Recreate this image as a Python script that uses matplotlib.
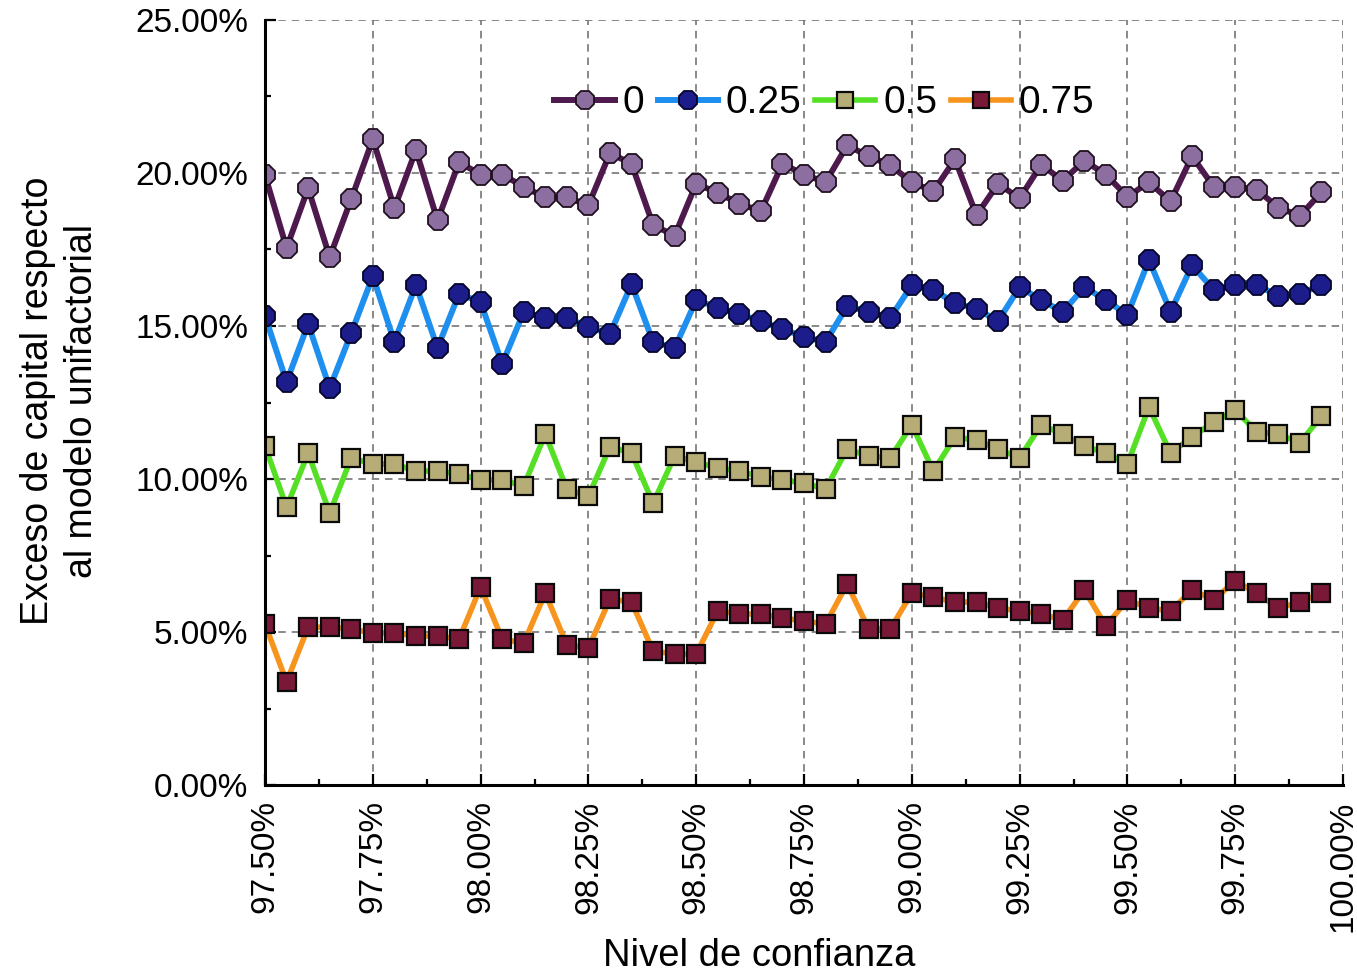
import numpy as np
import matplotlib
matplotlib.use("Agg")
import matplotlib.pyplot as plt
from matplotlib.ticker import PercentFormatter, MultipleLocator

plt.rcParams['font.family'] = ['Liberation Sans', 'DejaVu Sans']

# niveles de confianza (%)
niveles = [97.50, 97.55, 97.60, 97.65, 97.70, 97.75, 97.80, 97.85, 97.90, 97.95,
           98.00, 98.05, 98.10, 98.15, 98.20, 98.25, 98.30, 98.35, 98.40, 98.45,
           98.50, 98.55, 98.60, 98.65, 98.70, 98.75, 98.80, 98.85, 98.90, 98.95,
           99.00, 99.05, 99.10, 99.15, 99.20, 99.25, 99.30, 99.35, 99.40, 99.45,
           99.50, 99.55, 99.60, 99.65, 99.70, 99.75, 99.80, 99.85, 99.90, 99.95]

# exceso de capital (%) para cada correlacion
rho_0 = [19.93, 17.55, 19.50, 17.25, 19.15, 21.10, 18.85, 20.75, 18.45, 20.35,
         19.95, 19.95, 19.55, 19.20, 19.20, 18.95, 20.65, 20.30, 18.30, 17.95,
         19.65, 19.35, 19.00, 18.75, 20.30, 19.95, 19.70, 20.90, 20.55, 20.25,
         19.70, 19.40, 20.45, 18.62, 19.65, 19.17, 20.27, 19.75, 20.40, 19.95,
         19.22, 19.70, 19.07, 20.55, 19.55, 19.55, 19.45, 18.87, 18.60, 19.37]
rho_025 = [15.33, 13.17, 15.07, 12.97, 14.77, 16.63, 14.48, 16.34, 14.28, 16.05,
           15.78, 13.76, 15.46, 15.26, 15.26, 14.97, 14.74, 16.37, 14.48, 14.28,
           15.85, 15.60, 15.40, 15.15, 14.90, 14.65, 14.48, 15.65, 15.46, 15.26,
           16.34, 16.18, 15.75, 15.56, 15.16, 16.27, 15.85, 15.46, 16.27, 15.85,
           15.36, 17.16, 15.46, 16.99, 16.18, 16.34, 16.34, 15.98, 16.05, 16.34]
rho_05 = [11.08, 9.08, 10.85, 8.89, 10.69, 10.49, 10.49, 10.26, 10.26, 10.16,
          9.97, 9.97, 9.77, 11.47, 9.67, 9.44, 11.05, 10.85, 9.21, 10.75,
          10.56, 10.36, 10.26, 10.07, 9.97, 9.87, 9.67, 10.98, 10.75, 10.69,
          11.77, 10.26, 11.37, 11.27, 10.98, 10.69, 11.77, 11.47, 11.08, 10.85,
          10.49, 12.35, 10.85, 11.37, 11.86, 12.25, 11.54, 11.47, 11.18, 12.06]
rho_075 = [5.26, 3.37, 5.16, 5.16, 5.10, 4.97, 4.97, 4.87, 4.87, 4.77,
           6.47, 4.77, 4.64, 6.27, 4.58, 4.48, 6.08, 5.98, 4.38, 4.28,
           4.28, 5.69, 5.59, 5.59, 5.46, 5.36, 5.26, 6.57, 5.10, 5.10,
           6.27, 6.14, 5.98, 5.98, 5.78, 5.69, 5.59, 5.39, 6.37, 5.20,
           6.05, 5.78, 5.69, 6.37, 6.05, 6.67, 6.27, 5.78, 5.98, 6.27]

etiquetas = ['0', '0.25', '0.5', '0.75']

fig = plt.figure(figsize=(13.57, 9.74), dpi=100)
ax = fig.add_axes([0.1953, 0.194, 0.7944, 0.7855])

ax.plot(niveles, rho_0, color='#4E1A4E', lw=4.3, marker='8', ms=15,
        mfc='#8C6EA0', mec='#20101F', mew=1.3, label=etiquetas[0], zorder=4)
ax.plot(niveles, rho_025, color='#1E8FEF', lw=4.3, marker='8', ms=15,
        mfc='#1C1C8A', mec='#05052A', mew=1.3, label=etiquetas[1], zorder=4)
ax.plot(niveles, rho_05, color='#55E025', lw=4.0, marker='s', ms=13,
        mfc='#B5AD75', mec='#0A0A0A', mew=1.6, label=etiquetas[2], zorder=4)
ax.plot(niveles, rho_075, color='#F7941E', lw=4.0, marker='s', ms=13,
        mfc='#7A1838', mec='#0A0A0A', mew=1.6, label=etiquetas[3], zorder=4)

ax.set_xlim(97.5, 100.0)
ax.set_ylim(0, 25)
ax.xaxis.set_major_locator(MultipleLocator(0.25))
ax.xaxis.set_minor_locator(MultipleLocator(0.125))
ax.yaxis.set_major_locator(MultipleLocator(5))
ax.yaxis.set_minor_locator(MultipleLocator(2.5))
ax.xaxis.set_major_formatter(PercentFormatter(xmax=100, decimals=2))
ax.yaxis.set_major_formatter(PercentFormatter(xmax=100, decimals=2))

ax.tick_params(axis='both', which='major', direction='in', length=8, width=1.6,
               labelsize=24)
ax.tick_params(axis='both', which='minor', direction='in', length=4.5, width=1.6)
ax.tick_params(axis='x', which='major', pad=11, labelrotation=90)
ax.tick_params(axis='y', which='major', pad=12)

ax.grid(True, which='major', linestyle=(0, (4.5, 3.5)), color='#767676', lw=1.2)
ax.set_axisbelow(True)

for s in ['top', 'right']:
    ax.spines[s].set_visible(False)
for s in ['left', 'bottom']:
    ax.spines[s].set_linewidth(2.2)
    ax.spines[s].set_zorder(5)

ax.set_xlabel('Nivel de confianza', fontsize=27.5)
ax.xaxis.set_label_coords(0.458, -0.200)
ax.set_ylabel('Exceso de capital respecto\nal modelo unifactorial', fontsize=27,
              linespacing=1.3)
ax.yaxis.set_label_coords(-0.153, 0.502)

ax.legend(loc='center', bbox_to_anchor=(0.519, 0.891), ncol=4, frameon=False,
          fontsize=28, handlelength=1.55, handletextpad=0.2, columnspacing=0.35,
          borderpad=0.1, markerscale=0.9)

fig.savefig('out.png', dpi=100)
